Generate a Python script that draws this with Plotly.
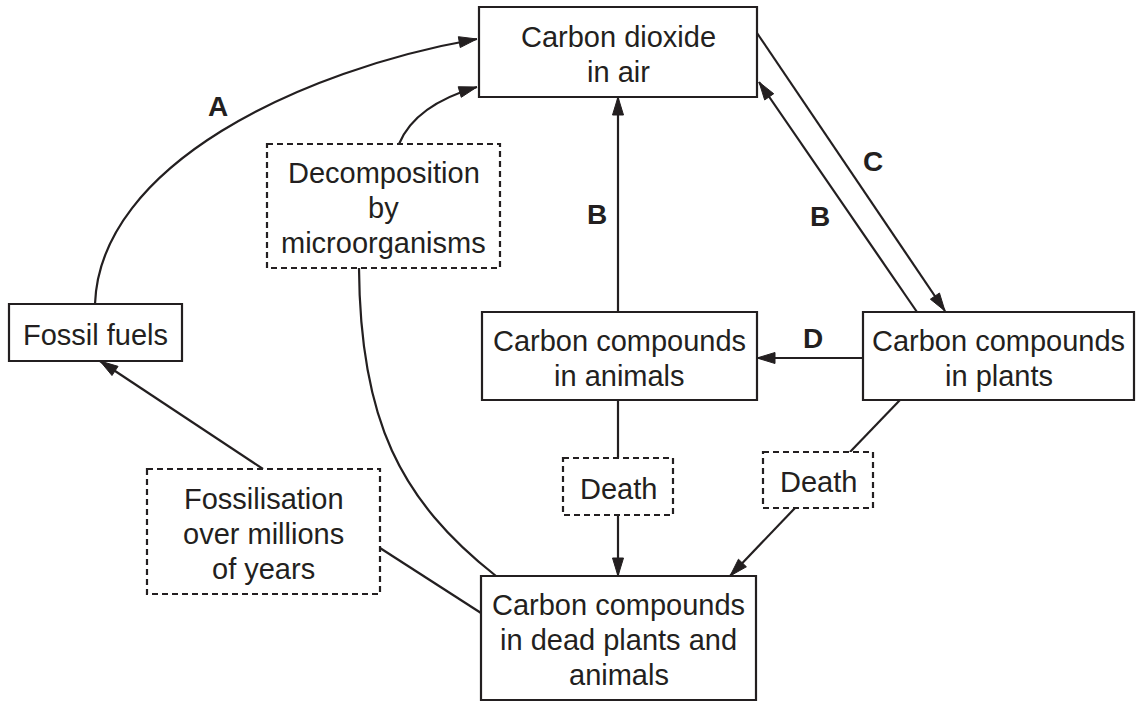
import math
import plotly.graph_objects as go

# ---- content (text) ----
stores = ["Carbon dioxide<br>in air", "Fossil fuels", "Carbon compounds<br>in animals",
          "Carbon compounds<br>in plants", "Carbon compounds<br>in dead plants and<br>animals"]
processes = ["Decomposition<br>by<br>microorganisms", "Fossilisation<br>over millions<br>of years",
             "Death", "Death"]
process_labels = ["A", "B", "C", "D", "B"]

# ---- layout geometry (pixels, y downward) ----
store_boxes = [(479, 7, 757, 97), (9, 304, 182, 361), (482, 312, 757, 400),
               (863, 312, 1134, 400), (481, 576, 756, 700)]
process_boxes = [(267, 144, 500, 268), (147, 469, 380, 594), (563, 458, 673, 515),
                 (763, 452, 873, 508)]
label_pos = [(218, 106), (597, 214), (873, 161), (813, 338), (820, 216)]

INK = "#231f20"
FONT = "Liberation Sans, Arial, Helvetica, sans-serif"
FS = 29
LINE_GAP = 35
LW = 2.2

shapes = []
annotations = []


def box(b, dashed=False):
    shapes.append(dict(type="rect", x0=b[0], y0=b[1], x1=b[2], y1=b[3], xref="x", yref="y",
                       line=dict(color=INK, width=LW, dash="6px,4px" if dashed else "solid"),
                       fillcolor="white", layer="above"))


def text(x, y, s, bold=False, size=FS):
    annotations.append(dict(x=x, y=y, xref="x", yref="y", text=("<b>%s</b>" % s) if bold else s,
                            showarrow=False, xanchor="center", yanchor="middle", align="center",
                            font=dict(family=FONT, size=size, color=INK)))


def block(x, cy, s):
    parts = s.split("<br>")
    n = len(parts)
    for i, p in enumerate(parts):
        text(x, cy + (i - (n - 1) / 2) * LINE_GAP, p)


def head(tip, frm, L=18, w=5.5):
    dx, dy = tip[0] - frm[0], tip[1] - frm[1]
    d = math.hypot(dx, dy)
    ux, uy = dx / d, dy / d
    bx, by = tip[0] - L * ux, tip[1] - L * uy
    nx, ny = -uy, ux
    p = "M %.2f %.2f L %.2f %.2f L %.2f %.2f Z" % (tip[0], tip[1], bx + w * nx, by + w * ny,
                                                   bx - w * nx, by - w * ny)
    shapes.append(dict(type="path", path=p, xref="x", yref="y", fillcolor=INK,
                       line=dict(color=INK, width=1), layer="above"))


def line(p0, p1, arrow=False):
    shapes.append(dict(type="line", x0=p0[0], y0=p0[1], x1=p1[0], y1=p1[1], xref="x", yref="y",
                       line=dict(color=INK, width=LW), layer="above"))
    if arrow:
        head(p1, p0)


def curve(pts, arrow=False):
    if len(pts) == 3:
        p = "M %s %s Q %s %s %s %s" % (pts[0] + pts[1] + pts[2])
    else:
        p = "M %s %s C %s %s %s %s %s %s" % (pts[0] + pts[1] + pts[2] + pts[3])
    shapes.append(dict(type="path", path=p, xref="x", yref="y",
                       line=dict(color=INK, width=LW), layer="above"))
    if arrow:
        head(pts[-1], pts[-2])


# connectors
curve([(95, 304), (100, 165), (300, 70), (477, 39)], arrow=True)          # A
curve([(399, 144), (415, 105), (477, 87)], arrow=True)                     # decomposition -> CO2
curve([(359, 268), (360, 420), (400, 500), (496, 576)])                     # dead -> decomposition
line((263, 469), (100, 361), arrow=True)                                   # fossilisation -> fossil fuels
line((380, 548), (481, 613))                                               # dead -> fossilisation
line((618, 312), (618, 97), arrow=True)                                    # B animals -> CO2
line((757, 33), (945, 311), arrow=True)                                    # C
line((917, 312), (759, 82), arrow=True)                                    # B plants -> CO2
line((863, 358), (757, 358), arrow=True)                                   # D
line((618, 400), (618, 458))
line((618, 515), (618, 576), arrow=True)
line((900, 400), (850, 452))
line((795, 508), (730, 576), arrow=True)

for b, s in zip(store_boxes, stores):
    box(b)
    block((b[0] + b[2]) / 2, (b[1] + b[3]) / 2 + 2, s)
for b, s in zip(process_boxes, processes):
    box(b, dashed=True)
    block((b[0] + b[2]) / 2, (b[1] + b[3]) / 2 + 2, s)
for (x, y), s in zip(label_pos, process_labels):
    text(x, y, s, bold=True, size=28)

W, H = 1136, 702
fig = go.Figure()
fig.update_layout(width=W, height=H, autosize=False,
                  margin=dict(l=0, r=0, t=0, b=0),
                  paper_bgcolor="white", plot_bgcolor="white",
                  xaxis=dict(range=[0, W], visible=False, fixedrange=True),
                  yaxis=dict(range=[H, 0], visible=False, fixedrange=True),
                  shapes=shapes, annotations=annotations, showlegend=False)
fig.write_html("out.html", config={"displayModeBar": False, "staticPlot": True},
               post_script="document.body.style.margin='0';document.body.style.overflow='hidden';")
